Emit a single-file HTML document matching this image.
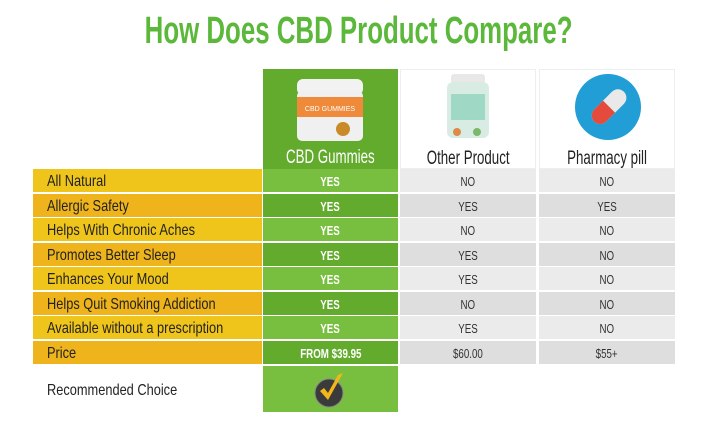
<!DOCTYPE html>
<html><head><meta charset="utf-8"><style>
body{margin:0;width:718px;height:430px;background:#fff;position:relative;overflow:hidden;font-family:"Liberation Sans",sans-serif}
.a{position:absolute;box-sizing:border-box}
.t{display:flex;align-items:center;justify-content:center}
.lbl{padding-left:14px;padding-top:3px;font-size:16px;color:#222;display:flex;align-items:center;white-space:nowrap}
.lbl span{display:inline-block;transform:scaleX(0.8);transform-origin:left center}
.c{font-size:13px;color:#333;padding-top:2px}
.c span{display:inline-block;transform:scaleX(0.75)}
.g{color:#fff;font-weight:bold}
.h span{display:inline-block;transform:scaleX(0.7)}
</style></head><body>
<div class="a t" style="left:0;top:9px;width:718px;height:44px;font-size:38px;font-weight:bold;color:#5cb83a"><span style="display:inline-block;transform:scaleX(0.68);white-space:nowrap">How Does CBD Product Compare?</span></div>

<div class="a" style="left:263px;top:69px;width:135px;height:100px;background:#63ab2d">
 <svg width="135" height="72" style="position:absolute;left:0;top:6px">
  <rect x="34" y="4" width="66" height="16" rx="6" fill="#f2f2f2"/>
  <rect x="34" y="16" width="66" height="50" rx="5" fill="#f0f0f0"/>
  <rect x="34" y="22" width="66" height="20" fill="#ee8a3a"/>
  <text x="67" y="36" font-size="7" fill="#fff" text-anchor="middle" font-family="Liberation Sans">CBD GUMMIES</text>
  <circle cx="80" cy="54" r="7" fill="#c98a2a"/>
 </svg>
 <div class="a t h" style="left:0;top:78px;width:135px;height:22px;font-size:19px;color:#fff"><span>CBD Gummies</span></div>
</div>
<div class="a" style="left:400px;top:69px;width:136px;height:100px;border:1px solid #eee">
 <svg width="136" height="72" style="position:absolute;left:0;top:0">
  <rect x="50" y="4" width="34" height="10" rx="3" fill="#e8e8e8"/>
  <rect x="46" y="12" width="42" height="56" rx="6" fill="#d9ece4"/>
  <rect x="50" y="24" width="34" height="26" fill="#9fd8c4"/>
  <circle cx="56" cy="62" r="4" fill="#e08a4a"/><circle cx="76" cy="62" r="4" fill="#7bb86a"/>
 </svg>
 <div class="a t h" style="left:0;top:78px;width:134px;height:22px;font-size:19px;color:#222"><span>Other Product</span></div>
</div>
<div class="a" style="left:539px;top:69px;width:136px;height:100px;border:1px solid #eee">
 <svg width="136" height="72" style="position:absolute;left:0;top:0">
  <circle cx="68" cy="37" r="33" fill="#219ed6"/>
  <g transform="rotate(-45 68 37)">
   <rect x="48" y="29" width="42" height="17" rx="8.5" fill="#e9e9e9"/>
   <path d="M56.5 29 H69 V46 H56.5 A8.5 8.5 0 0 1 56.5 29Z" fill="#e54b3c"/>
  </g>
 </svg>
 <div class="a t h" style="left:0;top:78px;width:134px;height:22px;font-size:19px;color:#222"><span>Pharmacy pill</span></div>
</div>

<div id="rows"></div>

<div class="a lbl" style="left:33px;top:366px;width:229px;height:46px"><span>Recommended Choice</span></div>
<div class="a t" style="left:263px;top:366px;width:135px;height:46px;background:#79bf3f">
 <svg width="40" height="40" viewBox="0 0 40 40">
  <circle cx="18" cy="24" r="14" fill="#3a3a3a" stroke="#888" stroke-width="1"/>
  <path d="M9 22 L17 31 L32 4 L27 6 L17 24 L13 19Z" fill="#f2b61c"/>
 </svg>
</div>

<script>
const features=["All Natural","Allergic Safety","Helps With Chronic Aches","Promotes Better Sleep","Enhances Your Mood","Helps Quit Smoking Addiction","Available without a prescription","Price"];
const cbdValues=["YES","YES","YES","YES","YES","YES","YES","FROM $39.95"];
const otherValues=["NO","YES","NO","YES","YES","NO","YES","$60.00"];
const pillValues=["NO","YES","NO","NO","NO","NO","NO","$55+"];
const root=document.getElementById('rows');
features.forEach((f,i)=>{
  const top=169+i*24.5, odd=i%2===1;
  const cells=[
    {x:33,w:229,txt:f,cls:'a lbl',bg:odd?'#efb41b':'#f0c51b',n:'feature-label'},
    {x:263,w:135,txt:cbdValues[i],cls:'a t c g',bg:odd?'#63ab2d':'#79bf3f',n:'cbd-value'},
    {x:400,w:136,txt:otherValues[i],cls:'a t c',bg:odd?'#dedede':'#ebebeb',n:'other-value'},
    {x:539,w:136,txt:pillValues[i],cls:'a t c',bg:odd?'#dedede':'#ebebeb',n:'pill-value'}];
  cells.forEach(c=>{
    const d=document.createElement('div');
    d.className=c.cls;
    d.style.cssText=`left:${c.x}px;top:${top}px;width:${c.w}px;height:23px;background:${c.bg}`;
    const s=document.createElement('span');
    s.textContent=c.txt;
    d.appendChild(s);
    
    
    root.appendChild(d);
  });
});
</script>
</body></html>
